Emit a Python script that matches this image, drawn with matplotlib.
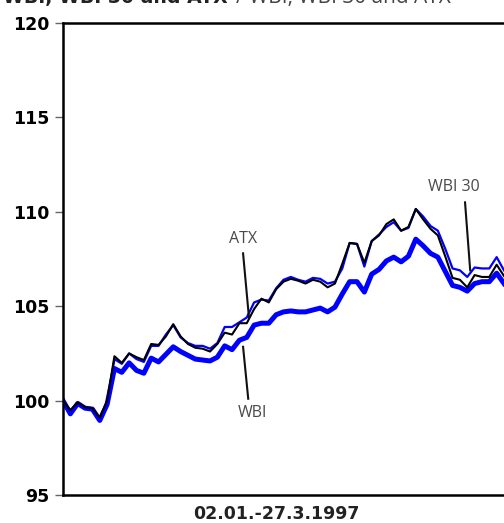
import numpy as np
import matplotlib
matplotlib.use("Agg")
import matplotlib.pyplot as plt

# index values 02.01.-27.3.1997, start = 100
atx = [100.0, 99.5, 99.9, 99.65, 99.6, 99.1, 100.0, 102.35, 102.0, 102.5,
       102.3, 102.15, 103.0, 102.95, 103.4, 104.05, 103.4, 103.0, 102.8, 102.75,
       102.6, 103.0, 103.6, 103.5, 104.1, 104.1, 104.85, 105.4, 105.2, 105.9,
       106.3, 106.45, 106.35, 106.2, 106.4, 106.3, 106.0, 106.2, 107.25, 108.35,
       108.3, 107.3, 108.45, 108.75, 109.35, 109.6, 109.0, 109.2, 110.15, 109.6,
       109.1, 108.75, 107.65, 106.5, 106.4, 106.0, 106.65, 106.55, 106.55, 107.2,
       106.6]
wbi30 = [100.0, 99.4, 99.9, 99.6, 99.55, 99.0, 99.85, 102.2, 101.95, 102.5,
         102.2, 102.05, 102.9, 102.9, 103.5, 104.0, 103.35, 103.05, 102.9, 102.9,
         102.75, 103.05, 103.9, 103.9, 104.15, 104.4, 105.2, 105.35, 105.3, 105.95,
         106.4, 106.55, 106.4, 106.3, 106.5, 106.45, 106.2, 106.3, 107.0, 108.35,
         108.3, 107.1, 108.45, 108.8, 109.2, 109.45, 109.0, 109.15, 110.15, 109.75,
         109.25, 109.0, 108.05, 107.0, 106.9, 106.55, 107.05, 107.0, 107.0, 107.6,
         106.9]
wbi = [100.0, 99.3, 99.85, 99.6, 99.55, 98.95, 99.8, 101.7, 101.5, 102.0,
       101.6, 101.45, 102.25, 102.05, 102.45, 102.85, 102.6, 102.4, 102.2, 102.15,
       102.1, 102.3, 102.9, 102.7, 103.2, 103.35, 104.0, 104.1, 104.1, 104.55,
       104.7, 104.75, 104.7, 104.7, 104.8, 104.9, 104.7, 104.95, 105.65, 106.3,
       106.3, 105.75, 106.7, 106.95, 107.4, 107.6, 107.35, 107.65, 108.55, 108.2,
       107.8, 107.6, 106.85, 106.1, 106.0, 105.8, 106.2, 106.3, 106.3, 106.75,
       106.2]
yticks = [95, 100, 105, 110, 115, 120]

x = np.arange(len(atx))

fig = plt.figure(figsize=(5.04, 5.23), dpi=100)
ax = fig.add_axes([0.125, 0.0535, 0.875, 0.9025])

ax.plot(x, wbi, color="#0000ff", lw=3.6, zorder=2)
ax.plot(x, wbi30, color="#0000ff", lw=1.6, zorder=3)
ax.plot(x, atx, color="black", lw=1.5, zorder=4)

ax.set_xlim(0, len(atx) - 1)
ax.set_ylim(95, 120)
ax.set_yticks(yticks)
ax.set_yticklabels([str(v) for v in yticks], fontsize=12.5, fontweight="bold")
ax.set_xticks([])
ax.tick_params(axis="y", length=6, width=1, color="#666666", pad=4)
for s in ["left", "bottom", "top"]:
    ax.spines[s].set_linewidth(1.8)
ax.spines["right"].set_visible(False)

# series labels with pointer lines
lab = dict(fontsize=11.5, color="#4a4a4a", family="Open Sans",
           ha="center", va="center", zorder=5)
ax.text(24.5, 108.56, "ATX", **lab)
ax.plot([24.5, 25.3], [107.8, 104.4], color="#111111", lw=1.5, zorder=5)
ax.text(53.2, 111.31, "WBI 30", **lab)
ax.plot([54.7, 55.4], [110.5, 106.9], color="#111111", lw=1.5, zorder=5)
ax.text(25.8, 99.34, "WBI", **lab)
ax.plot([25.2, 24.5], [100.1, 102.85], color="#111111", lw=1.5, zorder=5)

fig.text(276 / 504, 1 - 514 / 523, "02.01.-27.3.1997", fontsize=12.5,
         fontweight="bold", ha="center", va="center", color="#222222")

fig.text(3 / 504, 1 - 3 / 523, "WBI, WBI 30 and ATX", fontsize=13.6,
         fontweight="bold", ha="left", va="baseline", color="#222222")
fig.text(236 / 504, 1 - 3 / 523, "/ WBI, WBI 30 and ATX", fontsize=15,
         family="Open Sans", ha="left", va="baseline", color="#444444")

fig.savefig("out.png", dpi=100)
